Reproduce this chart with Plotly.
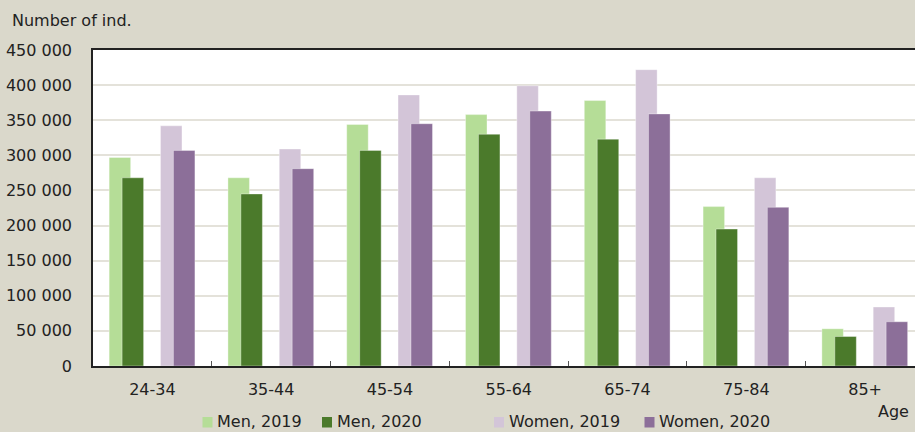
import plotly.graph_objects as go

categories = ["24-34", "35-44", "45-54", "55-64", "65-74", "75-84", "85+"]
men_2019 = [297000, 268000, 344000, 358000, 378000, 227000, 53000]
men_2020 = [268000, 245000, 307000, 330000, 323000, 195000, 42000]
women_2019 = [342000, 309000, 386000, 399000, 422000, 268000, 84000]
women_2020 = [307000, 281000, 345000, 363000, 359000, 226000, 63000]

series_names = ["Men, 2019", "Men, 2020", "Women, 2019", "Women, 2020"]
series_values = [men_2019, men_2020, women_2019, women_2020]
series_colors = ["#b5dd97", "#4b7a2b", "#d3c5d8", "#8c6f99"]
bar_offsets = [-0.364, -0.255, 0.068, 0.177]

# figure geometry (pixels)
W, H = 915, 432
L, R, T, B = 93, 0, 50, 66
PW, PH = W - L - R, H - T - B

def px_x(p):
    return (p - L) / PW

def px_y(p):
    return (H - B - p) / PH

FONT = "DejaVu Sans"
fig = go.Figure()
for name, vals, color, off in zip(series_names, series_values, series_colors, bar_offsets):
    fig.add_trace(go.Bar(
        x=categories, y=vals, name=name, showlegend=False,
        marker=dict(color=color, line=dict(color="rgba(255,255,255,0.35)", width=1)),
        width=0.181, offset=off,
    ))

# manual legend (square swatch + label)
legend_sq_x = [202.5, 322, 494, 644.5]
shapes = []
annotations = []
for name, color, sx in zip(series_names, series_colors, legend_sq_x):
    shapes.append(dict(type="rect", xref="paper", yref="paper",
                       x0=px_x(sx), x1=px_x(sx + 10), y0=px_y(417), y1=px_y(427.5),
                       fillcolor=color, line=dict(width=0)))
    annotations.append(dict(text=name, xref="paper", yref="paper",
                            x=px_x(sx + 12.5), y=px_y(421.5), xanchor="left", yanchor="middle",
                            showarrow=False, font=dict(size=16)))

annotations.append(dict(text="Number of ind.", xref="paper", yref="paper",
                        x=px_x(10), y=px_y(21), xanchor="left", yanchor="middle",
                        showarrow=False, font=dict(size=16)))
annotations.append(dict(text="Age", xref="paper", yref="paper",
                        x=px_x(876), y=px_y(412), xanchor="left", yanchor="middle",
                        showarrow=False, font=dict(size=16)))

fig.update_layout(
    width=W, height=H,
    margin=dict(l=L, r=R, t=T, b=B),
    paper_bgcolor="#dad8cb",
    plot_bgcolor="#ffffff",
    barmode="overlay",
    separators=". ",
    font=dict(family=FONT, size=16, color="#222222"),
    showlegend=False,
    xaxis=dict(
        type="category", range=[-0.5, 6.42],
        showline=True, linecolor="#222222", linewidth=1.5, mirror=True,
        ticks="inside", ticklen=5, tickcolor="#555555", tickson="boundaries",
        showgrid=False, tickfont=dict(size=16), ticklabelstandoff=8,
    ),
    yaxis=dict(
        range=[0, 450000], dtick=50000, tickformat=",d",
        showline=True, linecolor="#222222", linewidth=1.5,
        showgrid=True, gridcolor="#e4e2da", gridwidth=1.5,
        ticks="", tickfont=dict(size=16), ticklabelstandoff=16,
        zeroline=False,
    ),
    shapes=shapes,
    annotations=annotations,
)

fig.write_html(
    "out.html",
    config={"displayModeBar": False},
    post_script="document.body.style.margin='0';document.body.style.overflow='hidden';",
)
